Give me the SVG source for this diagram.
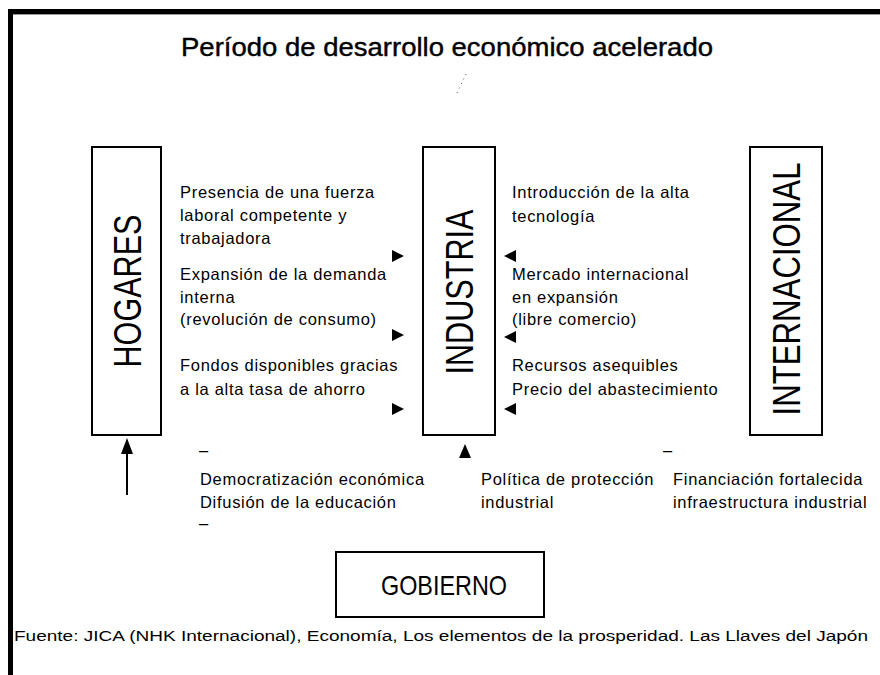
<svg xmlns="http://www.w3.org/2000/svg" width="880" height="675" viewBox="0 0 880 675">
<style>
.box{fill:#fff;stroke:#000;stroke-width:2}
.lbl{font-family:"Liberation Sans",Arial,sans-serif;fill:#000}
.t{font-family:"Liberation Sans",Arial,sans-serif;font-size:16.5px;fill:#000;letter-spacing:0.7px}
.big{font-family:"Liberation Sans",Arial,sans-serif;font-size:38px;fill:#000}
.tri{fill:#000}
</style>
<rect width="880" height="675" fill="#fff"/>
<path d="M10.5,680 V11.5 H890" fill="none" stroke="#000" stroke-width="5"/>
<line x1="13" y1="14.5" x2="880" y2="14.5" stroke="#999" stroke-width="1"/>
<text class="lbl" x="447" y="56" font-size="25" text-anchor="middle" textLength="532" lengthAdjust="spacingAndGlyphs" stroke="#000" stroke-width="0.4">Período de desarrollo económico acelerado</text>
<line x1="457" y1="93" x2="467" y2="72" stroke="#555" stroke-width="1" stroke-dasharray="1 4"/>

<g id="hogares">
<rect class="box" x="92" y="147" width="69" height="288"/>
<text class="big" transform="translate(141,291) rotate(-90)" text-anchor="middle" textLength="153" lengthAdjust="spacingAndGlyphs">HOGARES</text>
</g>
<g id="industria">
<rect class="box" x="423" y="147" width="72" height="288"/>
<text class="big" transform="translate(473,292) rotate(-90)" text-anchor="middle" textLength="165" lengthAdjust="spacingAndGlyphs">INDUSTRIA</text>
</g>
<g id="internacional">
<rect class="box" x="750" y="147" width="72" height="288"/>
<text class="big" transform="translate(800,289) rotate(-90)" text-anchor="middle" textLength="253" lengthAdjust="spacingAndGlyphs">INTERNACIONAL</text>
</g>
<g id="gobierno">
<rect class="box" x="336" y="552" width="208" height="65"/>
<text class="lbl" x="444" y="595" font-size="28" text-anchor="middle" textLength="126" lengthAdjust="spacingAndGlyphs">GOBIERNO</text>
</g>

<g id="labels">
<text class="t" x="180" y="198">Presencia de una fuerza</text>
<text class="t" x="180" y="221">laboral competente y</text>
<text class="t" x="180" y="244">trabajadora</text>
<text class="t" x="180" y="280">Expansión de la demanda</text>
<text class="t" x="180" y="303">interna</text>
<text class="t" x="180" y="325">(revolución de consumo)</text>
<text class="t" x="180" y="371">Fondos disponibles gracias</text>
<text class="t" x="180" y="395">a la alta tasa de ahorro</text>

<text class="t" x="512" y="198">Introducción de la alta</text>
<text class="t" x="512" y="222">tecnología</text>
<text class="t" x="512" y="280">Mercado internacional</text>
<text class="t" x="512" y="303">en expansión</text>
<text class="t" x="512" y="325">(libre comercio)</text>
<text class="t" x="512" y="371">Recursos asequibles</text>
<text class="t" x="512" y="395">Precio del abastecimiento</text>

<text class="t" x="199" y="456">–</text>
<text class="t" x="200" y="485">Democratización económica</text>
<text class="t" x="200" y="508">Difusión de la educación</text>
<text class="t" x="199" y="529">–</text>
<text class="t" x="481" y="485">Política de protección</text>
<text class="t" x="481" y="508">industrial</text>
<text class="t" x="663" y="456">–</text>
<text class="t" x="673" y="485">Financiación fortalecida</text>
<text class="t" x="673" y="508">infraestructura industrial</text>

<text class="lbl" x="14" y="641" font-size="14" textLength="854" lengthAdjust="spacingAndGlyphs">Fuente: JICA (NHK Internacional), Economía, Los elementos de la prosperidad. Las Llaves del Japón</text>
</g>

<g id="connectors">
<polygon class="tri" points="392,250 404,256 392,262"/>
<polygon class="tri" points="392,329 404,335 392,341"/>
<polygon class="tri" points="392,403 404,409 392,415"/>
<polygon class="tri" points="516,250 504,256 516,262"/>
<polygon class="tri" points="516,331 504,337 516,343"/>
<polygon class="tri" points="516,403 504,409 516,415"/>
<polygon class="tri" points="465,444 471,458 459,458"/>
<line x1="127" y1="495" x2="127" y2="452" stroke="#000" stroke-width="2"/>
<polygon class="tri" points="127,438 133,454 121,454"/>
</g>
</svg>
